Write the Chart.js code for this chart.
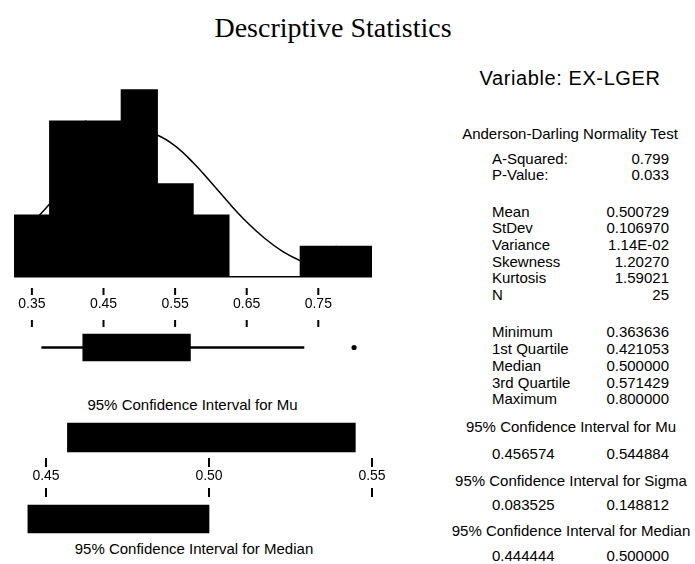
<!DOCTYPE html>
<html>
<head>
<meta charset="utf-8">
<script src="https://cdn.jsdelivr.net/npm/chart.js@4.4.0/dist/chart.umd.min.js"></script>
<style>
    html, body { margin: 0; padding: 0; background: #fff; }
    #page { position: relative; width: 695px; height: 564px; overflow: hidden; background: #fff;
            font-family: 'Liberation Sans', Arial, sans-serif; color: #000; }
    canvas { position: absolute; }
    #labels { position: absolute; left: 0; top: 0; width: 695px; height: 564px; }
    .txt { position: absolute; white-space: nowrap; font-size: 15px; line-height: 17px; }
    .row { display: flex; justify-content: space-between; }
</style>
</head>
<body>
<div id="page">
    <div id="labels"></div>
    <canvas id="chart-hist" width="400" height="340" style="left:0;top:0"></canvas>
    <canvas id="chart-box"  width="400" height="60"  style="left:0;top:312px"></canvas>
    <canvas id="chart-mu"   width="400" height="71"  style="left:0;top:417px"></canvas>
    <canvas id="chart-med"  width="400" height="53"  style="left:0;top:488px"></canvas>
    <canvas id="ticks-hist" width="400" height="10"  style="left:0;top:287px"></canvas>
    <canvas id="ticks-ci"   width="400" height="12"  style="left:0;top:457px"></canvas>
</div>
<script>
// histogram (bin midpoints, counts) and fitted normal curve
const histBins   = [0.35, 0.40, 0.45, 0.50, 0.55, 0.60, 0.65, 0.70, 0.75, 0.80];
const histCounts = [2, 5, 5, 6, 3, 2, 0, 0, 1, 1];
const curveX = [0.325, 0.35, 0.375, 0.40, 0.425, 0.45, 0.475, 0.50, 0.525, 0.55, 0.575,
                0.60, 0.625, 0.65, 0.675, 0.70, 0.725, 0.75, 0.775, 0.80, 0.825];
const curveY = [1.21, 1.73, 2.34, 2.99, 3.63, 4.17, 4.53, 4.66, 4.54, 4.19, 3.66,
                3.03, 2.37, 1.76, 1.24, 0.82, 0.52, 0.31, 0.17, 0.09, 0.05];
const histTicks = [0.35, 0.45, 0.55, 0.65, 0.75];

// boxplot
const boxWhisker  = [0.363636, 0.73];
const boxQuartile = [0.421053, 0.571429];
const boxOutliers = [0.80];

// confidence interval bars
const ciTicks  = [0.45, 0.50, 0.55];
const muCI     = [0.456574, 0.544884];
const medianCI = [0.444444, 0.500000];

// text panel
const varName      = 'Variable: EX-LGER';
const adTitle      = 'Anderson-Darling Normality Test';
const adLabels     = ['A-Squared:', 'P-Value:'];
const adValues     = ['0.799', '0.033'];
const momentLabels = ['Mean', 'StDev', 'Variance', 'Skewness', 'Kurtosis', 'N'];
const momentValues = ['0.500729', '0.106970', '1.14E-02', '1.20270', '1.59021', '25'];
const quantLabels  = ['Minimum', '1st Quartile', 'Median', '3rd Quartile', 'Maximum'];
const quantValues  = ['0.363636', '0.421053', '0.500000', '0.571429', '0.800000'];
const ciTitles     = ['95% Confidence Interval for Mu', '95% Confidence Interval for Sigma', '95% Confidence Interval for Median'];
const ciLows       = ['0.456574', '0.083525', '0.444444'];
const ciHighs      = ['0.544884', '0.148812', '0.500000'];

Chart.defaults.font.family = "'Liberation Sans', Arial, sans-serif";
Chart.defaults.color = '#000';

const labels = document.getElementById('labels');

function fixedTicks(values) {
    return scale => { scale.ticks = values.map(v => ({ value: v })); };
}

// short vertical tick marks at given values of the x scale, between canvas rows
const tickMarks = {
    id: 'tickMarks',
    afterDraw(chart, args, opts) {
        const { ctx } = chart;
        const scale = chart.scales.x;
        ctx.save();
        ctx.fillStyle = '#000';
        (opts.rows || []).forEach(([y1, y2]) => {
            for (const v of opts.values || []) {
                const x = scale.getPixelForValue(v);
                ctx.fillRect(x - 1, y1, 2, y2 - y1);
            }
        });
        ctx.restore();
    },
};

function text(str, left, cy, opts = {}) {
    const el = document.createElement('div');
    el.className = 'txt';
    el.textContent = str;
    el.style.left = left + 'px';
    el.style.top  = (cy - 8.5) + 'px';
    if (opts.width) { el.style.width = opts.width + 'px'; el.style.textAlign = opts.align || 'center'; }
    if (opts.css) Object.assign(el.style, opts.css);
    labels.appendChild(el);
    return el;
}

function row(label, value, cy) {
    const el = text('', 492, cy, { width: 177 });
    el.classList.add('row');
    const a = document.createElement('span'); a.textContent = label;
    const b = document.createElement('span'); b.textContent = value;
    el.append(a, b);
}

function baseOptions(values, rows) {
    return {
        responsive: false,
        animation: false,
        events: [],
        plugins: {
            legend: { display: false },
            tooltip: { enabled: false },
            tickMarks: { values, rows },
        },
    };
}

// bottom axis carrying the tick labels only
function labelAxis(min, max, values, height, padding) {
    return {
        type: 'linear', min, max, offset: false,
        position: 'bottom',
        afterBuildTicks: fixedTicks(values),
        afterFit: s => { s.height = height; },
        border: { display: false },
        grid: { display: false, drawTicks: false, offset: false },
        ticks: {
            callback: v => v.toFixed(2),
            font: { size: 14 }, padding, maxRotation: 0, autoSkip: false,
        },
    };
}

const hidden = (min, max) => ({ type: 'linear', min, max, offset: false, display: false, grid: { offset: false } });

// Titles and captions
text('Descriptive Statistics', 133, 0, {
    width: 400,
    css: { top: '12px', fontFamily: "'Liberation Serif', 'Times New Roman', serif", fontSize: '28px', lineHeight: '32px' },
});
text(ciTitles[0], 40, 404, { width: 305 });
text(ciTitles[2], 40, 548, { width: 308 });

// Right-hand statistics panel
text(varName, 420, 0, {
    width: 300,
    css: { top: '66px', fontSize: '20px', lineHeight: '24px', letterSpacing: '0.6px' },
});
text(adTitle, 420, 133, { width: 300 });
adLabels.forEach((l, i) => row(l, adValues[i], 158 + i * 16.5));
momentLabels.forEach((l, i) => row(l, momentValues[i], 211 + i * 16.7));
quantLabels.forEach((l, i) => row(l, quantValues[i], 331.7 + i * 16.8));

const ciHeadY = [426.7, 480, 530];
const ciValY  = [453, 504, 555];
ciTitles.forEach((t, i) => {
    text(t, 421, ciHeadY[i], { width: 300 });
    row(ciLows[i], ciHighs[i], ciValY[i]);
});

// Histogram with normal curve
new Chart(document.getElementById('chart-hist'), {
    type: 'bar',
    data: {
        datasets: [
            {
                type: 'line',
                data: curveX.map((x, i) => ({ x, y: curveY[i] })),
                borderColor: '#000', borderWidth: 1.5,
                pointRadius: 0, tension: 0.4, order: 0,
            },
            {
                data: histBins.map((x, i) => ({ x, y: histCounts[i] })),
                backgroundColor: '#000',
                barPercentage: 1.04, categoryPercentage: 1, order: 1,
            },
        ],
    },
    options: {
        ...baseOptions(histTicks, []),
        layout: { padding: { left: 14, right: 28, top: 83, bottom: 0 } },
        scales: {
            x: labelAxis(0.325, 0.825, histTicks, 52, 8),
            y: {
                min: -0.35, max: 6.2,
                afterBuildTicks: fixedTicks([0]),
                afterFit: s => { s.width = 0; },
                border: { display: false },
                grid: { color: '#000', lineWidth: 1.5, drawTicks: false },
                ticks: { display: false },
            },
        },
    },
});

// Boxplot, tick row above it
new Chart(document.getElementById('chart-box'), {
    type: 'bar',
    plugins: [tickMarks],
    data: {
        labels: ['box'],
        datasets: [
            { data: [boxWhisker],  backgroundColor: '#000', barThickness: 2,  grouped: false },
            { data: [boxQuartile], backgroundColor: '#000', barThickness: 27, grouped: false },
            {
                type: 'scatter',
                data: boxOutliers.map(x => ({ x, y: 'box' })),
                backgroundColor: '#000', borderWidth: 0, pointRadius: 2.6,
            },
        ],
    },
    options: {
        ...baseOptions(histTicks, [[8, 15]]),
        indexAxis: 'y',
        layout: { padding: { left: 14, right: 28, top: 15, bottom: 0 } },
        scales: {
            x: hidden(0.325, 0.825),
            y: { type: 'category', display: false },
        },
    },
});

// CI for Mu
new Chart(document.getElementById('chart-mu'), {
    type: 'bar',
    data: {
        labels: ['ci'],
        datasets: [{ data: [muCI], backgroundColor: '#000', barThickness: 29 }],
    },
    options: {
        ...baseOptions(ciTicks, []),
        indexAxis: 'y',
        layout: { padding: { left: 13.4, right: 11.7, top: 0, bottom: 0 } },
        scales: {
            x: labelAxis(0.44, 0.555, ciTicks, 30, 10),
            y: { type: 'category', display: false },
        },
    },
});

// CI for Median, tick row above it
new Chart(document.getElementById('chart-med'), {
    type: 'bar',
    plugins: [tickMarks],
    data: {
        labels: ['ci'],
        datasets: [{ data: [medianCI], backgroundColor: '#000', barThickness: 28 }],
    },
    options: {
        ...baseOptions(ciTicks, [[0, 9]]),
        indexAxis: 'y',
        layout: { padding: { left: 13.4, right: 11.7, top: 9, bottom: 0 } },
        scales: {
            x: hidden(0.44, 0.555),
            y: { type: 'category', display: false },
        },
    },
});

// Tick rows above the value labels, each on a small canvas of its own
function tickStrip(id, min, max, values, padding, rows) {
    return new Chart(document.getElementById(id), {
        type: 'scatter',
        plugins: [tickMarks],
        data: { datasets: [{ data: [] }] },
        options: {
            ...baseOptions(values, rows),
            layout: { padding },
            scales: {
                x: hidden(min, max),
                y: { type: 'linear', min: 0, max: 1, display: false },
            },
        },
    });
}
tickStrip('ticks-hist', 0.325, 0.825, histTicks, { left: 14, right: 28, top: 0, bottom: 0 }, [[1, 8]]);
tickStrip('ticks-ci', 0.44, 0.555, ciTicks, { left: 13.4, right: 11.7, top: 0, bottom: 0 }, [[1, 10]]);
</script>
</body>
</html>
